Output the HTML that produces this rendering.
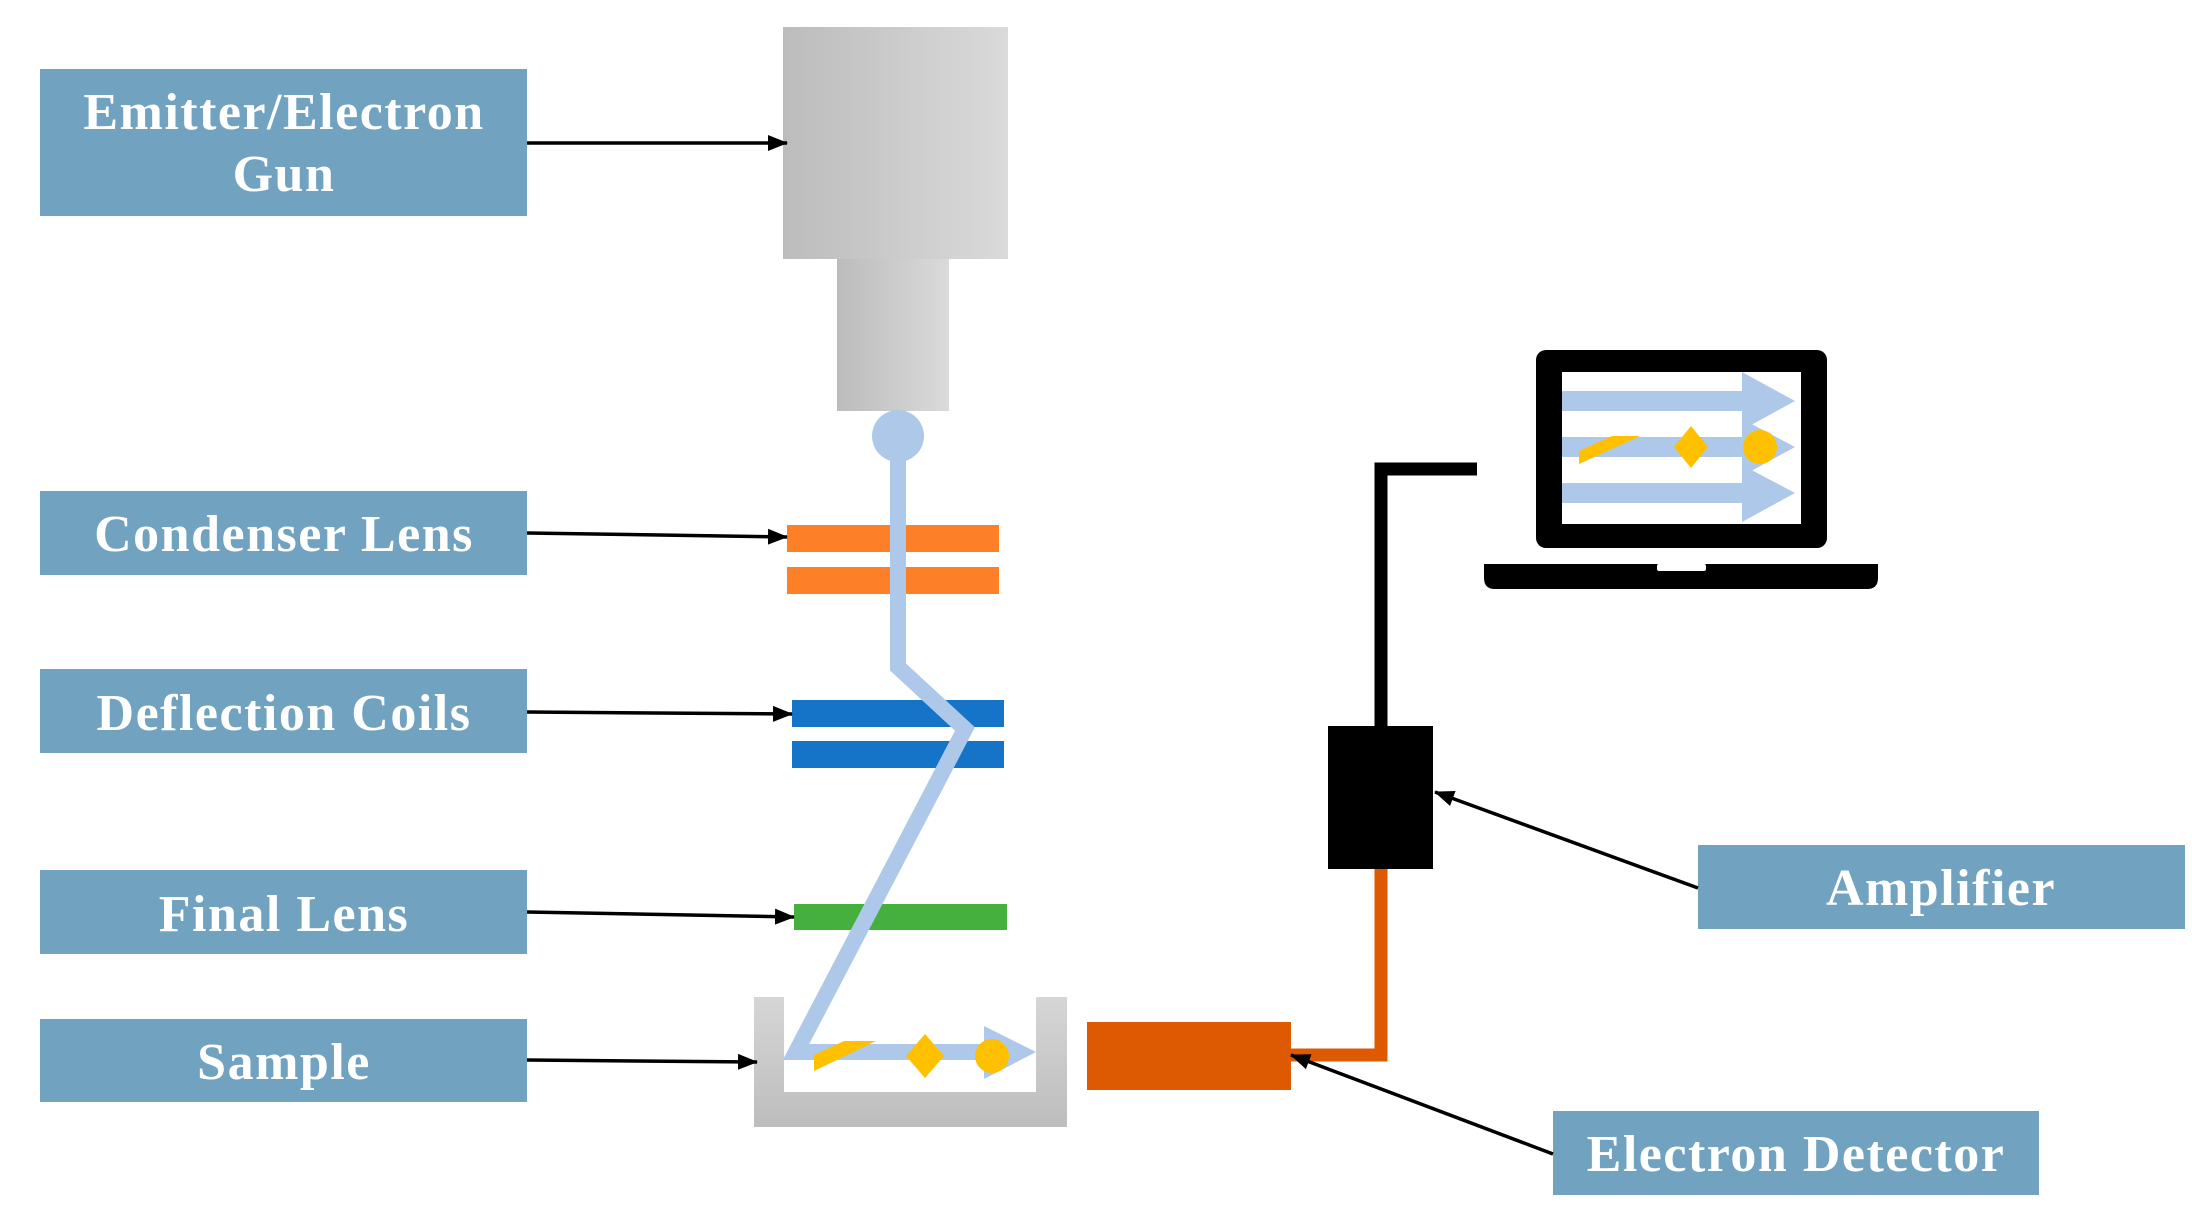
<!DOCTYPE html>
<html><head><meta charset="utf-8"><style>
html,body{margin:0;padding:0;background:#fff;}
svg{display:block;}
text{font-family:"Liberation Serif",serif;font-weight:bold;fill:#fff;font-size:52px;letter-spacing:1.5px;}
</style></head><body>
<svg width="2209" height="1214" viewBox="0 0 2209 1214" xmlns="http://www.w3.org/2000/svg">
<defs>
<linearGradient id="g1" x1="0" x2="1" y1="0" y2="0"><stop offset="0" stop-color="#bcbcbc"/><stop offset="1" stop-color="#dadada"/></linearGradient>
<linearGradient id="g2" x1="0" x2="0" y1="0" y2="1"><stop offset="0" stop-color="#d6d6d6"/><stop offset="1" stop-color="#bdbdbd"/></linearGradient>
<marker id="ah" markerWidth="20" markerHeight="16" refX="19" refY="8" orient="auto" markerUnits="userSpaceOnUse" viewBox="0 0 20 16"><path d="M0,0 L20,8 L0,16 z" fill="#000"/></marker>
</defs>
<!-- labels -->
<g fill="#71a3c1">
<rect x="40" y="69" width="487" height="147"/>
<rect x="40" y="491" width="487" height="84"/>
<rect x="40" y="669" width="487" height="84"/>
<rect x="40" y="870" width="487" height="84"/>
<rect x="40" y="1019" width="487" height="83"/>
<rect x="1698" y="845" width="487" height="84"/>
<rect x="1553" y="1111" width="486" height="84"/>
</g>
<g text-anchor="middle">
<text x="284" y="129">Emitter/Electron</text>
<text x="284" y="191">Gun</text>
<text x="284" y="551">Condenser Lens</text>
<text x="284" y="730">Deflection Coils</text>
<text x="284" y="931">Final Lens</text>
<text x="284" y="1079">Sample</text>
<text x="1941" y="905">Amplifier</text>
<text x="1796" y="1171">Electron Detector</text>
</g>
<!-- gun -->
<rect x="783" y="27" width="225" height="232" fill="url(#g1)"/>
<rect x="837" y="259" width="112" height="152" fill="url(#g1)"/>
<!-- lenses -->
<rect x="787" y="525" width="212" height="27" fill="#fd7f27"/>
<rect x="787" y="567" width="212" height="27" fill="#fd7f27"/>
<rect x="792" y="700" width="212" height="27" fill="#1573c8"/>
<rect x="792" y="741" width="212" height="27" fill="#1573c8"/>
<rect x="794" y="904" width="213" height="26" fill="#45b03d"/>
<!-- sample container -->
<path d="M754,997 H784 V1092 H1036 V997 H1067 V1127 H754 Z" fill="url(#g2)"/>
<!-- beam -->
<circle cx="898" cy="436" r="26" fill="#adc8e8"/>
<polyline points="898,436 898,667 965,729 796,1052 990,1052" fill="none" stroke="#adc8e8" stroke-width="16"/>
<polygon points="984,1026 1036,1052 984,1079" fill="#adc8e8"/>
<polygon points="814,1055 844,1041 876,1041 814,1071" fill="#ffc000"/>
<polygon points="925,1034 944,1056 925,1078 906,1056" fill="#ffc000"/>
<circle cx="992" cy="1056" r="17" fill="#ffc000"/>
<!-- detector & amp -->
<polyline points="1291,1055 1381,1055 1381,869" fill="none" stroke="#de5a02" stroke-width="13"/>
<rect x="1087" y="1022" width="204" height="68" fill="#de5a02"/>
<polyline points="1381,726 1381,469 1477,469" fill="none" stroke="#000" stroke-width="13"/>
<rect x="1328" y="726" width="105" height="143" fill="#000"/>
<!-- arrows -->
<g stroke="#000" stroke-width="3.5" marker-end="url(#ah)">
<line x1="527" y1="143" x2="787" y2="143"/>
<line x1="527" y1="533" x2="787" y2="537"/>
<line x1="527" y1="712" x2="792" y2="714"/>
<line x1="527" y1="912" x2="794" y2="917"/>
<line x1="527" y1="1060" x2="757" y2="1062"/>
<line x1="1698" y1="888" x2="1435" y2="792"/>
<line x1="1553" y1="1154" x2="1291" y2="1055"/>
</g>
<!-- laptop -->
<rect x="1536" y="350" width="291" height="198" rx="10" fill="#000"/>
<rect x="1562" y="372" width="239" height="152" fill="#fff"/>
<path d="M1484,564 H1878 V578 Q1878,589 1867,589 H1495 Q1484,589 1484,578 Z" fill="#000"/>
<rect x="1657" y="564" width="49" height="7" rx="2" fill="#fff"/>
<g fill="#adc8e8">
<rect x="1562" y="391" width="186" height="20"/>
<polygon points="1742,372 1795,401 1742,430"/>
<rect x="1562" y="437" width="186" height="20"/>
<polygon points="1742,419 1795,447 1742,476"/>
<rect x="1562" y="483" width="186" height="20"/>
<polygon points="1742,465 1795,493 1742,522"/>
</g>
<polygon points="1579,451 1612,436 1640,436 1579,464" fill="#ffc000"/>
<polygon points="1691,426 1708,447 1691,468 1674,447" fill="#ffc000"/>
<circle cx="1760" cy="447" r="17" fill="#ffc000"/>
</svg>
</body></html>
